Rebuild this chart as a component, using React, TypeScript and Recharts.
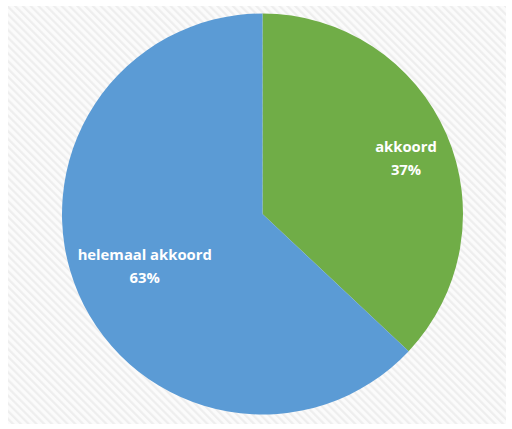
import React from "react";
import { PieChart, Pie, Cell } from "recharts";

const categories = ["akkoord", "helemaal akkoord"];
const values = [37, 63];
const percentLabels = ["37%", "63%"];
const colors = ["#70AD47", "#5B9BD5"];

const LABEL_RADIUS_FACTORS = [0.78, 0.64];
const LABEL_Y_SHIFT = [0, -5];

const RADIAN = Math.PI / 180;

const renderLabel = (props: any) => {
  const { cx, cy, midAngle, outerRadius, index } = props;
  const r = outerRadius * LABEL_RADIUS_FACTORS[index];
  const x = cx + r * Math.cos(-midAngle * RADIAN);
  const y = cy + r * Math.sin(-midAngle * RADIAN) + LABEL_Y_SHIFT[index];
  return (
    <text
      x={x}
      y={y}
      fill="#ffffff"
      textAnchor="middle"
      fontFamily="'Open Sans', 'Liberation Sans', sans-serif"
      fontWeight="bold"
      fontSize={14.8}
    >
      <tspan x={x} dy={0}>{categories[index]}</tspan>
      <tspan x={x} dy={23}>{percentLabels[index]}</tspan>
    </text>
  );
};

export default function App() {
  const data = categories.map((name, i) => ({ name, value: values[i] }));
  return (
    <div
      style={{
        position: "absolute",
        left: 0,
        top: 0,
        width: 512,
        height: 429,
        background: "#ffffff",
      }}
    >
      <div
        style={{
          position: "absolute",
          left: 8,
          top: 6,
          width: 498,
          height: 418,
          background:
            "repeating-linear-gradient(45deg, #fbfbfb 0px, #fbfbfb 2px, #eeeeee 3px, #eeeeee 4px, #fbfbfb 5.5px)",
        }}
      />
      <div style={{ position: "absolute", left: 0, top: 0 }}>
        <PieChart width={512} height={429}>
          <Pie
            data={data}
            dataKey="value"
            cx={257.5}
            cy={209}
            outerRadius={200.5}
            startAngle={90}
            endAngle={-270}
            stroke="none"
            label={renderLabel}
            labelLine={false}
            isAnimationActive={false}
          >
            {data.map((_, i) => (
              <Cell key={i} fill={colors[i]} />
            ))}
          </Pie>
        </PieChart>
      </div>
    </div>
  );
}
